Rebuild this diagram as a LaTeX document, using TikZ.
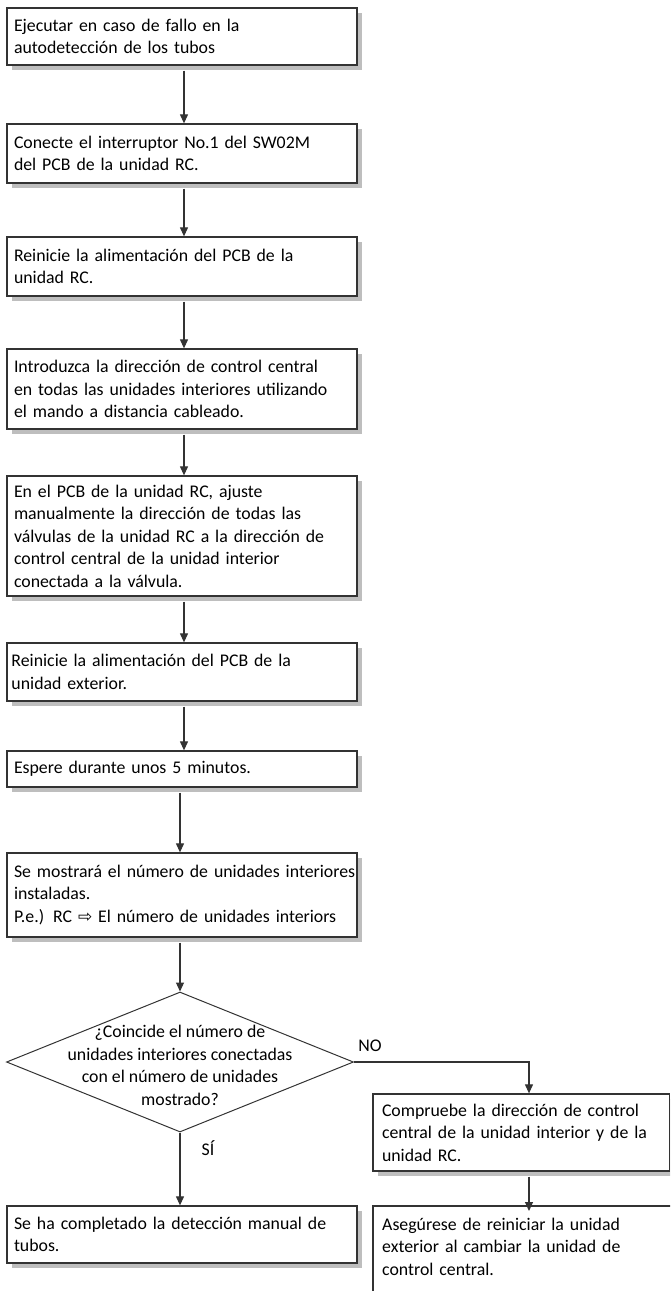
\documentclass[tikz,border=0pt]{standalone}
\usepackage{fontspec}
\setmainfont{Carlito}
\newfontfamily\symfont{DejaVu Sans}
\usetikzlibrary{arrows.meta,shapes.geometric,shadows}
\definecolor{linecol}{HTML}{333333}
\definecolor{shadowcol}{HTML}{BEBEBE}
\begin{document}
\begin{tikzpicture}[x=1pt,y=-1pt,
  txt/.style={font=\fontsize{17.8}{22.5}\selectfont},
  box/.style={txt, draw=linecol, line width=1.3pt, fill=white, rectangle,
    minimum width=350pt, text width=336pt, inner xsep=7pt, inner ysep=0pt, align=left,
    general shadow={fill=shadowcol, shadow xshift=4.5pt, shadow yshift=-4.5pt}},
  arr/.style={draw=linecol, line width=1.1pt, -{Triangle[width=8pt,length=9pt]}},
  lbl/.style={txt, inner sep=0pt}]
\useasboundingbox (0,0) rectangle (670,1291);
\clip (0,0) rectangle (670,1291);

\node[box, minimum height=57pt] (b1) at (182,36.5)
  {Ejecutar en caso de fallo en la\\autodetección de los tubos};
\node[box, minimum height=59pt] (b2) at (182,153.5)
  {Conecte el interruptor No.1 del SW02M\\del PCB de la unidad RC.};
\node[box, minimum height=59pt] (b3) at (182,266.5)
  {Reinicie la alimentación del PCB de la\\unidad RC.};
\node[box, minimum height=80pt] (b4) at (182,389)
  {Introduzca la dirección de control central\\en todas las unidades interiores utilizando\\el mando a distancia cableado.};
\node[box, minimum height=120pt] (b5) at (182,536)
  {En el PCB de la unidad RC, ajuste\\manualmente la dirección de todas las\\válvulas de la unidad RC a la dirección de\\control central de la unidad interior\\conectada a la válvula.};
\node[box, minimum height=58pt, inner xsep=4.5pt, text width=341pt] (b6) at (182,672)
  {Reinicie la alimentación del PCB de la\\unidad exterior.};
\node[box, minimum height=36pt] (b7) at (182,769)
  {Espere durante unos 5 minutos.};
\node[box, minimum height=84pt] (b8) at (182,895)
  {\mbox{Se mostrará el número de unidades interiores}\\instaladas.\\\mbox{P.e.) RC {\symfont\fontsize{17}{22.5}\selectfont ⇨} El número de unidades interiors}};

\node[draw=linecol, line width=1pt, diamond, minimum width=347pt, minimum height=140pt, inner sep=0pt] (dec) at (180,1062) {};
\node[txt, align=center, inner sep=0pt] (dectext) at (180,1065.5)
  {¿Coincide el número de\\unidades interiores conectadas\\con el número de unidades\\mostrado?};

\node[box, minimum width=296.5pt, text width=278.5pt, inner xsep=9pt, minimum height=77pt] (b9) at (521.25,1132.5)
  {Compruebe la dirección de control\\central de la unidad interior y de la\\unidad RC.};
\node[box, minimum height=57pt] (b11) at (182,1234.5)
  {Se ha completado la detección manual de\\tubos.};
\node[txt, anchor=north west, minimum width=320pt, text width=302pt, inner xsep=9pt, inner ysep=0pt, minimum height=81pt, align=left] (b10) at (373,1206)
  {Asegúrese de reiniciar la unidad\\exterior al cambiar la unidad de\\control central.};
\draw[linecol, line width=1.3pt] ([yshift=-20pt]b10.south west) -- (b10.north west) -- (b10.north east);

\node[lbl] (no) at (370,1046) {NO};
\node[lbl] (si) at (208,1148) {SÍ};

\draw[arr] ([xshift=2pt,yshift=-5pt]b1.south) -- ([xshift=2pt]b2.north);
\draw[arr] ([xshift=2pt,yshift=-5pt]b2.south) -- ([xshift=2pt]b3.north);
\draw[arr] ([xshift=2pt,yshift=-5pt]b3.south) -- ([xshift=2pt]b4.north);
\draw[arr] ([xshift=2pt,yshift=-5pt]b4.south) -- ([xshift=2pt]b5.north);
\draw[arr] ([xshift=2pt,yshift=-5pt]b5.south) -- ([xshift=2pt]b6.north);
\draw[arr] ([xshift=2pt,yshift=-5pt]b6.south) -- ([xshift=2pt]b7.north);
\draw[arr] ([xshift=-2pt,yshift=-5pt]b7.south) -- ([xshift=-2pt]b8.north);
\draw[arr] ([xshift=-2pt,yshift=-5pt]b8.south) -- (dec.north);
\draw[arr] (dec.south) -- (dec.south |- b11.north);
\draw[arr] (dec.east) -| ([xshift=7.75pt]b9.north);
\draw[arr] ([xshift=7.75pt,yshift=-5pt]b9.south) -- ([xshift=7.75pt,yshift=-5pt]b9.south |- b10.north);
\end{tikzpicture}
\end{document}
